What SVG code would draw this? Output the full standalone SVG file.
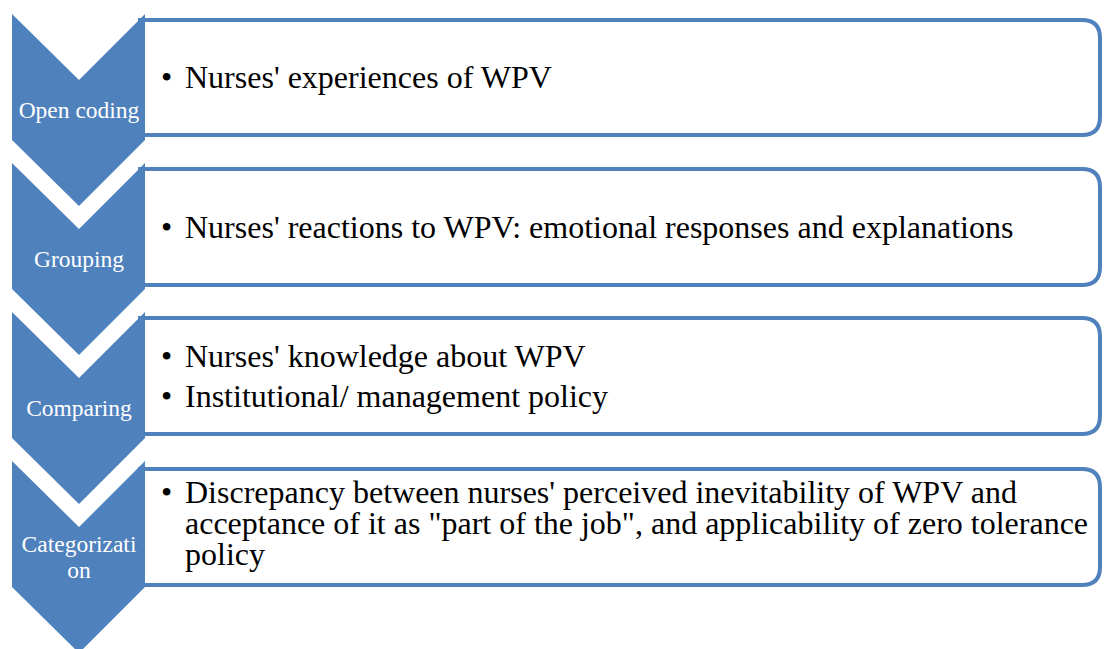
<svg xmlns="http://www.w3.org/2000/svg" width="1104" height="649" viewBox="0 0 1104 649">
<defs>
<style>
.box{fill:#ffffff;stroke:#4F81BD;stroke-width:4}
.chev{fill:#4F81BD}
.lbl{font-family:"Liberation Serif","Times New Roman",serif;font-size:23.5px;fill:#ffffff;text-anchor:middle}
.txt{font-family:"Liberation Serif","Times New Roman",serif;font-size:32px;fill:#000000}
</style>
</defs>
<rect width="1104" height="649" fill="#ffffff"/>
<g id="step1">
<path class="box" d="M140 20 H1082 Q1100 20 1100 38 V117 Q1100 135 1082 135 H140 Z"/>
<polygon class="chev" points="12,14 79,80 145,14 145,140 79,206 12,140"/>
<text class="lbl" x="79" y="118">Open coding</text>
<text class="txt" x="161" y="88">•</text>
<text class="txt" x="185" y="88">Nurses' experiences of WPV</text>
</g>
<g id="step2">
<path class="box" d="M140 169 H1082 Q1100 169 1100 187 V267 Q1100 285 1082 285 H140 Z"/>
<polygon class="chev" points="12,163 79,229 145,163 145,289 79,355 12,289"/>
<text class="lbl" x="79" y="267">Grouping</text>
<text class="txt" x="161" y="238">•</text>
<text class="txt" x="185" y="238">Nurses' reactions to WPV: emotional responses and explanations</text>
</g>
<g id="step3">
<path class="box" d="M140 318 H1082 Q1100 318 1100 336 V416 Q1100 434 1082 434 H140 Z"/>
<polygon class="chev" points="12,312 79,378 145,312 145,438 79,504 12,438"/>
<text class="lbl" x="79" y="416">Comparing</text>
<text class="txt" x="161" y="367">•</text>
<text class="txt" x="185" y="367">Nurses' knowledge about WPV</text>
<text class="txt" x="161" y="407">•</text>
<text class="txt" x="185" y="407">Institutional/ management policy</text>
</g>
<g id="step4">
<path class="box" d="M140 469 H1082 Q1100 469 1100 487 V567 Q1100 585 1082 585 H140 Z"/>
<polygon class="chev" points="12,461 79,527 145,461 145,587 79,653 12,587"/>
<text class="lbl"><tspan x="79" y="552">Categorizati</tspan><tspan x="79" y="578">on</tspan></text>
<text class="txt" x="161" y="503">•</text>
<text class="txt"><tspan x="185" y="503">Discrepancy between nurses' perceived inevitability of WPV and</tspan><tspan x="185" y="534">acceptance of it as "part of the job", and applicability of zero tolerance</tspan><tspan x="185" y="565">policy</tspan></text>
</g>
<g id="connectors"></g>
</svg>
